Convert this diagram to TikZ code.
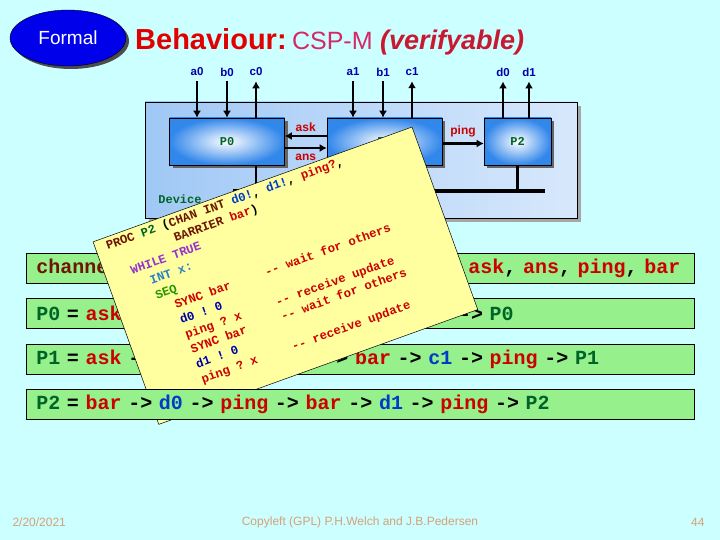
\documentclass[tikz,border=0pt]{standalone}
\usepackage{fontspec}
\setmainfont{Liberation Sans}
\setsansfont{Liberation Sans}
\setmonofont{Liberation Mono}
\newfontfamily\slidemono{Liberation Mono}
\usepackage{xcolor}
\usepackage{tikz}
\usetikzlibrary{shapes.geometric, arrows.meta, positioning, calc, shadows}
\definecolor{slidebg}{RGB}{204,255,255}
\definecolor{formalblue}{RGB}{0,0,235}
\definecolor{titlered}{RGB}{225,0,0}
\definecolor{cspmred}{RGB}{215,40,100}
\definecolor{verired}{RGB}{200,25,50}
\definecolor{wireblue}{RGB}{0,0,170}
\definecolor{devfill}{RGB}{160,200,245}
\definecolor{devlight}{RGB}{215,232,252}
\definecolor{procblue}{RGB}{50,135,235}
\definecolor{procgreen}{RGB}{0,100,40}
\definecolor{evred}{RGB}{205,0,0}
\definecolor{rowgreen}{RGB}{150,240,140}
\definecolor{notefill}{RGB}{255,255,160}
\definecolor{kwbrown}{RGB}{110,20,0}
\definecolor{chanblue}{RGB}{0,60,200}
\definecolor{occpurple}{RGB}{150,50,210}
\definecolor{occsteel}{RGB}{40,130,200}
\definecolor{occgreen}{RGB}{40,150,0}
\definecolor{foottan}{RGB}{214,160,120}

% mono text with spaces as wide as one character
\newcommand{\monospacing}{\fontdimen2\font=0.6em\fontdimen3\font=0pt\fontdimen4\font=0pt\fontdimen7\font=0pt}
\newcommand{\rowtt}{\fontsize{20}{22}\selectfont\slidemono\bfseries\monospacing}
\newcommand{\codett}{\fontsize{12.3}{15.8}\selectfont\slidemono\bfseries\monospacing}
\newcommand{\ev}[1]{\textcolor{evred}{#1}}
\newcommand{\dv}[1]{\textcolor{chanblue}{#1}}
\newcommand{\pn}[1]{\textcolor{procgreen}{#1}}
\newcommand{\kw}[1]{\textcolor{kwbrown}{#1}}

\begin{document}
\frenchspacing
\begin{tikzpicture}[x=1pt, y=-1pt,
    formal/.style={ellipse, draw=black, fill=formalblue, minimum width=116pt, minimum height=56pt, text=white, font=\fontsize{19}{20}\selectfont, drop shadow={shadow xshift=3pt, shadow yshift=-3pt, fill=black!70, opacity=1}},
    wirelbl/.style={font=\fontsize{11.5}{12}\selectfont\bfseries, text=wireblue, inner sep=1pt},
    wire/.style={line width=2.4pt, -{Latex[length=7pt,width=8pt]}},
    device/.style={draw=black, line width=0.8pt, minimum width=432pt, minimum height=116pt, left color=devfill, right color=devlight, drop shadow={shadow xshift=4pt, shadow yshift=-4pt, fill=gray!70, opacity=1}},
    proc/.style={draw=black, line width=0.6pt, minimum height=47pt, inner color=white, outer color=procblue, text=procgreen, font=\fontsize{12}{14}\selectfont\slidemono\bfseries, drop shadow={shadow xshift=3pt, shadow yshift=-3pt, fill=black!60, opacity=1}},
    chanlbl/.style={font=\fontsize{12}{13}\selectfont\bfseries, text=evred, inner sep=1.5pt},
    barrier/.style={line width=3.5pt, line cap=rect},
    stub/.style={line width=2.4pt},
    eqrow/.style={draw=black, line width=0.6pt, fill=rowgreen, minimum height=30pt, text width=648pt, inner xsep=10pt, inner ysep=0pt, align=left, font=\rowtt},
    note/.style={draw=black, line width=0.5pt, fill=notefill, minimum width=339pt, minimum height=194pt, inner sep=0pt},
    occamcode/.style={inner sep=0pt, align=left, font=\codett},
    footer/.style={font=\fontsize{12}{13}\selectfont, text=foottan}
]
    \useasboundingbox (0,0) rectangle (720,540);
    \fill[slidebg] (0,0) rectangle (720,540);

    % heading
    \node[formal] (formal) at (68,38) {Formal};
    \node[anchor=base west, inner sep=0pt, font=\fontsize{29}{30}\selectfont\bfseries, text=titlered] (behav) at (135,50) {Behaviour:};
    \node[anchor=base west, inner sep=0pt, font=\fontsize{25}{30}\selectfont, text=cspmred] (cspm) at ([xshift=5pt]behav.base east) {CSP-M};
    \node[anchor=base west, inner sep=0pt, font=\fontsize{27}{30}\selectfont\bfseries\itshape, text=verired] (verif) at ([xshift=7pt]cspm.base east) {(verifyable)};

    % device network
    \node[device] (device) at (361,160) {};
    \node[proc, minimum width=115pt] (P0) at (227,141.5) {P0};
    \node[proc, minimum width=115pt] (P1) at (384.5,141.5) {P1};
    \node[proc, minimum width=67pt] (P2) at (517.5,141.5) {P2};

    \node[wirelbl] (a0) at (197,72) {a0};
    \node[wirelbl] (b0) at (227,72) {b0};
    \node[wirelbl] (c0) at (256,72) {c0};
    \node[wirelbl] (a1) at (353,72) {a1};
    \node[wirelbl] (b1) at (383,72) {b1};
    \node[wirelbl] (c1) at (412,72) {c1};
    \node[wirelbl] (d0) at (503,72) {d0};
    \node[wirelbl] (d1) at (529,72) {d1};

    \draw[wire, shorten <=4pt] (a0.south) -- (a0 |- P0.north);
    \draw[wire, shorten <=4pt] (b0.south) -- (b0 |- P0.north);
    \draw[wire, shorten >=4pt] (c0 |- P0.north) -- (c0.south);
    \draw[wire, shorten <=4pt] (a1.south) -- (a1 |- P1.north);
    \draw[wire, shorten <=4pt] (b1.south) -- (b1 |- P1.north);
    \draw[wire, shorten >=4pt] (c1 |- P1.north) -- (c1.south);
    \draw[wire, shorten >=4pt] (d0 |- P2.north) -- (d0.south);
    \draw[wire, shorten >=4pt] (d1 |- P2.north) -- (d1.south);

    \draw[wire] ([yshift=5.5pt]P1.west) -- ([yshift=5.5pt]P0.east) node[chanlbl, midway, above=2pt] (asklbl) {ask};
    \draw[wire] ([yshift=-6.5pt]P0.east) -- ([yshift=-6.5pt]P1.west) node[chanlbl, midway, below=3pt] (anslbl) {ans};
    \draw[wire] ([yshift=-2pt]P1.east) -- ([yshift=-2pt]P2.west) node[chanlbl, midway, above=4pt] (pinglbl) {ping};

    \coordinate (barL) at (235,191);
    \coordinate (barR) at (543,191);
    \draw[barrier] (barL) -- (barR);
    \draw[stub] (c0 |- P0.south) -- (c0 |- barL);
    \draw[stub] (c1 |- P1.south) -- (c1 |- barL);
    \draw[stub] (P2.south) -- (P2 |- barL);

    \node[font=\fontsize{12}{13}\selectfont\slidemono\bfseries, text=procgreen] (devname) at (180,199) {Device};

    % CSP-M equations
    \node[eqrow, anchor=west] (chans) at (26,268.5) {\mbox{\kw{channel} \dv{a0}, \dv{b0}, \dv{c0}, \dv{a1}, \dv{b1}, \dv{c1}, \dv{d0}, \dv{d1}, \ev{ask}, \ev{ans}, \ev{ping}, \ev{bar}}};
    \node[eqrow, below=14.5pt of chans] (eqP0) {\mbox{\pn{P0} = \ev{ask} -> \dv{a0} -> \dv{b0} -> \ev{ans} -> \ev{bar} -> \dv{c0} -> \pn{P0}}};
    \node[eqrow, below=15pt of eqP0] (eqP1) {\mbox{\pn{P1} = \ev{ask} -> \dv{a1} -> \dv{b1} -> \ev{ans} -> \ev{bar} -> \dv{c1} -> \ev{ping} -> \pn{P1}}};

    % occam note
    \begin{scope}[shift={(285.4,275.7)}, rotate=19.8, transform shape]
        \node[note] (note) at (0,0) {};
        \node[occamcode, anchor=north west] (p2code) at (-158.4,-96) {\strut\kw{PROC} \pn{P2} (\kw{CHAN INT} \dv{d0!}, \dv{d1!}, \ev{ping?},\\
~~~~~~~~~\kw{BARRIER} \ev{bar})\\
~~\textcolor{occpurple}{WHILE TRUE}\\
~~~~\textcolor{occsteel}{INT x:}\\
~~~~\textcolor{occgreen}{SEQ}\\
~~~~~~\ev{SYNC bar}~~~~~\ev{-{}- wait for others}\\
~~~~~~\textcolor{wireblue}{d0 ! 0}\\
~~~~~~\ev{ping ? x}~~~~~\ev{-{}- receive update}\\
~~~~~~\ev{SYNC bar}~~~~~\ev{-{}- wait for others}\\
~~~~~~\textcolor{wireblue}{d1 ! 0}\\
~~~~~~\ev{ping ? x}~~~~~\ev{-{}- receive update}};
    \end{scope}

    \node[eqrow, below=14.5pt of eqP1] (eqP2) {\mbox{\pn{P2} = \ev{bar} -> \dv{d0} -> \ev{ping} -> \ev{bar} -> \dv{d1} -> \ev{ping} -> \pn{P2}}};

    % footer
    \node[footer, anchor=west] (date) at (9,522) {2/20/2021};
    \node[footer] (credit) at (360,522) {Copyleft (GPL) P.H.Welch and J.B.Pedersen};
    \node[footer, anchor=east] (page) at (708,522) {44};
\end{tikzpicture}
\end{document}
